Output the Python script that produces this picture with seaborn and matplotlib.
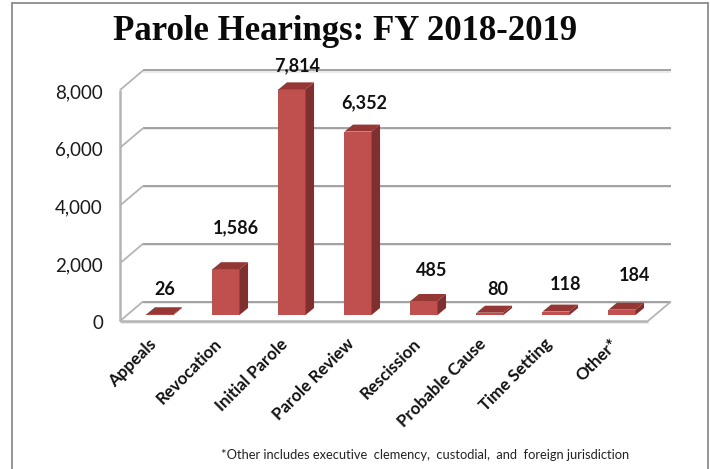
"""Parole hearings bar chart with a hand-built 3D look."""

import matplotlib
matplotlib.use("Agg")
import matplotlib.pyplot as plt
from matplotlib.lines import Line2D
from matplotlib.patches import Polygon
from matplotlib.transforms import ScaledTranslation
import seaborn as sns

categories = ["Appeals", "Revocation", "Initial Parole", "Parole Review",
              "Rescission", "Probable Cause", "Time Setting", "Other*"]
hearings = [26, 1586, 7814, 6352, 485, 80, 118, 184]
value_labels = ["26", "1,586", "7,814", "6,352", "485", "80", "118", "184"]
y_ticks = [0, 2000, 4000, 6000, 8000]
y_tick_labels = ["0", "2,000", "4,000", "6,000", "8,000"]

# Layout, all in pixels of the 710x469 picture
W, H = 710, 469
PLOT_LEFT, PLOT_RIGHT = 127, 655
PLOT_BOTTOM, PLOT_TOP = 315, 84
# manual label nudges from each bar's front top corner centre (right, up)
label_nudge = [(5, 25), (10, 41), (5, 24), (6, 29), (8, 30), (8, 23), (10, 27), (12, 34)]

FRONT = "#C0504D"
TOP = "#953735"
SIDE = "#7C3130"
WALL = "#B4B4B4"
GRID = "#9A9A9A"
FRAME = "#8C8C8C"

sns.set_style("white")
plt.rcParams["font.family"] = ["Lato", "DejaVu Sans"]

fig = plt.figure(figsize=(W / 100, H / 100), dpi=100)
ax = fig.add_axes([PLOT_LEFT / W, 1 - PLOT_BOTTOM / H,
                   (PLOT_RIGHT - PLOT_LEFT) / W, (PLOT_BOTTOM - PLOT_TOP) / H])

sns.barplot(x=categories, y=hearings, color=FRONT, saturation=1, width=0.41, ax=ax, zorder=3,
            edgecolor="none", linewidth=0)
ax.set_xlim(-0.5, 7.5)
ax.set_ylim(0, 8000)
sns.despine(ax=ax, left=True, bottom=True)
ax.patch.set_alpha(0)

# pixel -> data conversion for the depth offsets
px_x = 8 / (PLOT_RIGHT - PLOT_LEFT)
px_y = 8000 / (PLOT_BOTTOM - PLOT_TOP)


def wall_line(x0, y0, x1, y1, color=WALL, lw=1.3, shadow=True):
    """Line given in data coordinates, outside of the axes clip"""
    if shadow:
        ax.plot([x0, x1], [y0 - px_y, y1 - px_y], color="#E8E8E8", lw=lw,
                clip_on=False, zorder=1, solid_capstyle="butt")
    ax.plot([x0, x1], [y0, y1], color=color, lw=lw, clip_on=False, zorder=1.5,
            solid_capstyle="butt")


# Walls: front edge is 7px left / 6px down of the bars, back is 16px right / 13.5px up
front_dx, front_dy = -7 * px_x, -6 * px_y
back_dx, back_dy = 16 * px_x, 13.5 * px_y
x_lo, x_hi = -0.5, 7.5

for tick in y_ticks:
    wall_line(x_lo + back_dx, tick + back_dy, x_hi + back_dx, tick + back_dy, color=GRID)
    wall_line(x_lo + front_dx, tick + front_dy, x_lo + back_dx, tick + back_dy, shadow=False)
wall_line(x_lo + front_dx, y_ticks[0] + front_dy, x_lo + front_dx, y_ticks[-1] + front_dy, lw=1.8, shadow=False)
wall_line(x_lo + front_dx, y_ticks[0] + front_dy, x_hi + front_dx, y_ticks[0] + front_dy, lw=1.8)
wall_line(x_hi + front_dx, y_ticks[0] + front_dy, x_hi + back_dx, y_ticks[0] + back_dy, shadow=False)

# Depth faces of the bars, built from the seaborn patches
bar_dx, bar_dy = 8.5 * px_x, 7 * px_y
bars = list(ax.patches)
for bar in bars:
    x0, x1 = bar.get_x(), bar.get_x() + bar.get_width()
    top = bar.get_height()
    ax.add_patch(Polygon([(x0, top), (x1, top), (x1 + bar_dx, top + bar_dy), (x0 + bar_dx, top + bar_dy)],
                         facecolor=TOP, edgecolor="none", clip_on=False, zorder=3))
    ax.add_patch(Polygon([(x1, 0), (x1 + bar_dx, bar_dy), (x1 + bar_dx, top + bar_dy), (x1, top)],
                         facecolor=SIDE, edgecolor="none", clip_on=False, zorder=3))

# Value labels
for i, (bar, text) in enumerate(zip(bars, value_labels)):
    nudge_x, nudge_y = label_nudge[i]
    ax.text(bar.get_x() + bar.get_width() / 2 + nudge_x * px_x, bar.get_height() + nudge_y * px_y,
            text, ha="center", va="center", fontsize=13, fontweight="bold", color="#111111",
            clip_on=False, zorder=4)

# Axis labels
ax.set_yticks(y_ticks)
ax.set_yticklabels(y_tick_labels)
ax.tick_params(axis="y", length=0, pad=24 * 0.72, labelsize=13.5, labelcolor="#1a1a1a")
down = ScaledTranslation(0, -7 / 100, fig.dpi_scale_trans)
for label in ax.get_yticklabels():
    label.set_transform(label.get_transform() + down)

ax.set_xticks(range(len(categories)))
ax.set_xticklabels(categories, rotation=45, ha="right", va="top", rotation_mode="anchor",
                   fontsize=12.2, fontweight="bold", color="#111111")
ax.tick_params(axis="x", length=0, pad=15)
left = ScaledTranslation(-12 / 100, 0, fig.dpi_scale_trans)
for label in ax.get_xticklabels():
    label.set_transform(label.get_transform() + left)

# Title and footnote
fig.text(345 / W, 1 - 31 / H, "Parole Hearings: FY 2018-2019", ha="center", va="center",
         fontsize=25, fontweight="bold", family=["Liberation Serif", "DejaVu Serif"], color="#0a0a0a")
fig.text(425 / W, 1 - 455 / H, "*Other includes executive  clemency,  custodial,  and  foreign jurisdiction",
         ha="center", va="center", fontsize=9.3, color="#222222")

# Picture frame, open at the bottom
for xs, ys in [((12, 12), (3, H)), ((12, 708), (3, 3)), ((708, 708), (3, H))]:
    fig.add_artist(Line2D([x / W for x in xs], [1 - y / H for y in ys], color=FRAME, lw=1.3))

fig.savefig("out.png", dpi=100)
